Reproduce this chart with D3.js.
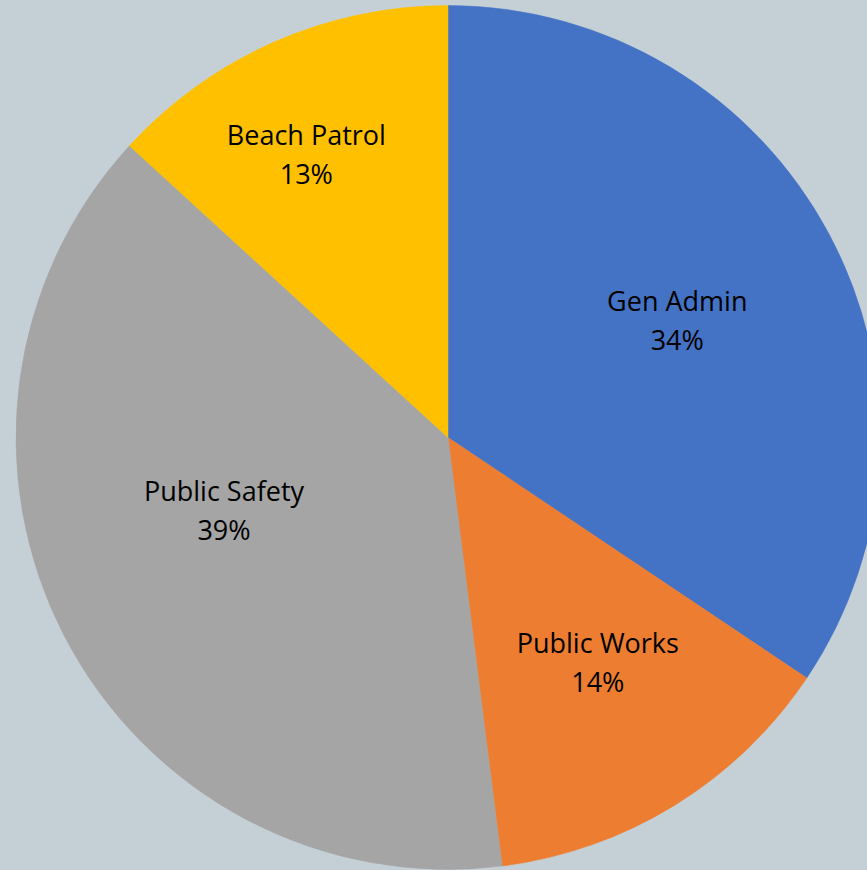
<!DOCTYPE html>
<html>
<head>
<meta charset="utf-8">
<script src="https://cdn.jsdelivr.net/npm/d3@7"></script>
<style>
  html, body { margin: 0; padding: 0; background: #c5d0d6; overflow: hidden; }
</style>
</head>
<body>
<div id="chart"></div>
<script>
// data
var categories = ["Gen Admin", "Public Works", "Public Safety", "Beach Patrol"];
var values = [34.4, 13.6, 38.8, 13.2];
var pctLabels = ["34%", "14%", "39%", "13%"];
var colors = ["#4472c4", "#ed7d31", "#a5a5a5", "#ffc000"];

// label placement tweaks (radius fraction, angle shift in degrees)
var labelTweak = [[0.595, 1.2], [0.627, -1.9], [0.546, 9.1], [0.731, -2.9]];

var width = 867, height = 870;
var cx = 448, cy = 437.5, R = 432;

var svg = d3.select("#chart").append("svg")
    .attr("width", width)
    .attr("height", height);

svg.append("rect").attr("width", width).attr("height", height).attr("fill", "#c5d0d6");

var pie = d3.pie().sort(null).value(function(d) { return d; });
var arcs = pie(values);

var arc = d3.arc().innerRadius(0).outerRadius(R);

var g = svg.append("g").attr("transform", "translate(" + cx + "," + cy + ")");

g.selectAll("path")
    .data(arcs)
    .enter().append("path")
    .attr("d", arc)
    .attr("fill", function(d, i) { return colors[i]; })
    .attr("stroke", function(d, i) { return colors[i]; })
    .attr("stroke-width", 0.5);

var labels = g.selectAll("text.lbl")
    .data(arcs)
    .enter().append("text")
    .attr("class", "lbl")
    .attr("font-family", "'Open Sans', sans-serif")
    .attr("font-size", 27)
    .attr("fill", "#000")
    .attr("text-anchor", "middle")
    .attr("transform", function(d, i) {
        var t = labelTweak[i];
        var a = (d.startAngle + d.endAngle) / 2 + t[1] * Math.PI / 180;
        var r = R * t[0];
        return "translate(" + (r * Math.sin(a)) + "," + (-r * Math.cos(a)) + ")";
    });

labels.append("tspan").attr("x", 0).attr("y", -10).text(function(d, i) { return categories[i]; });
labels.append("tspan").attr("x", 0).attr("y", 29).text(function(d, i) { return pctLabels[i]; });
</script>
</body>
</html>
